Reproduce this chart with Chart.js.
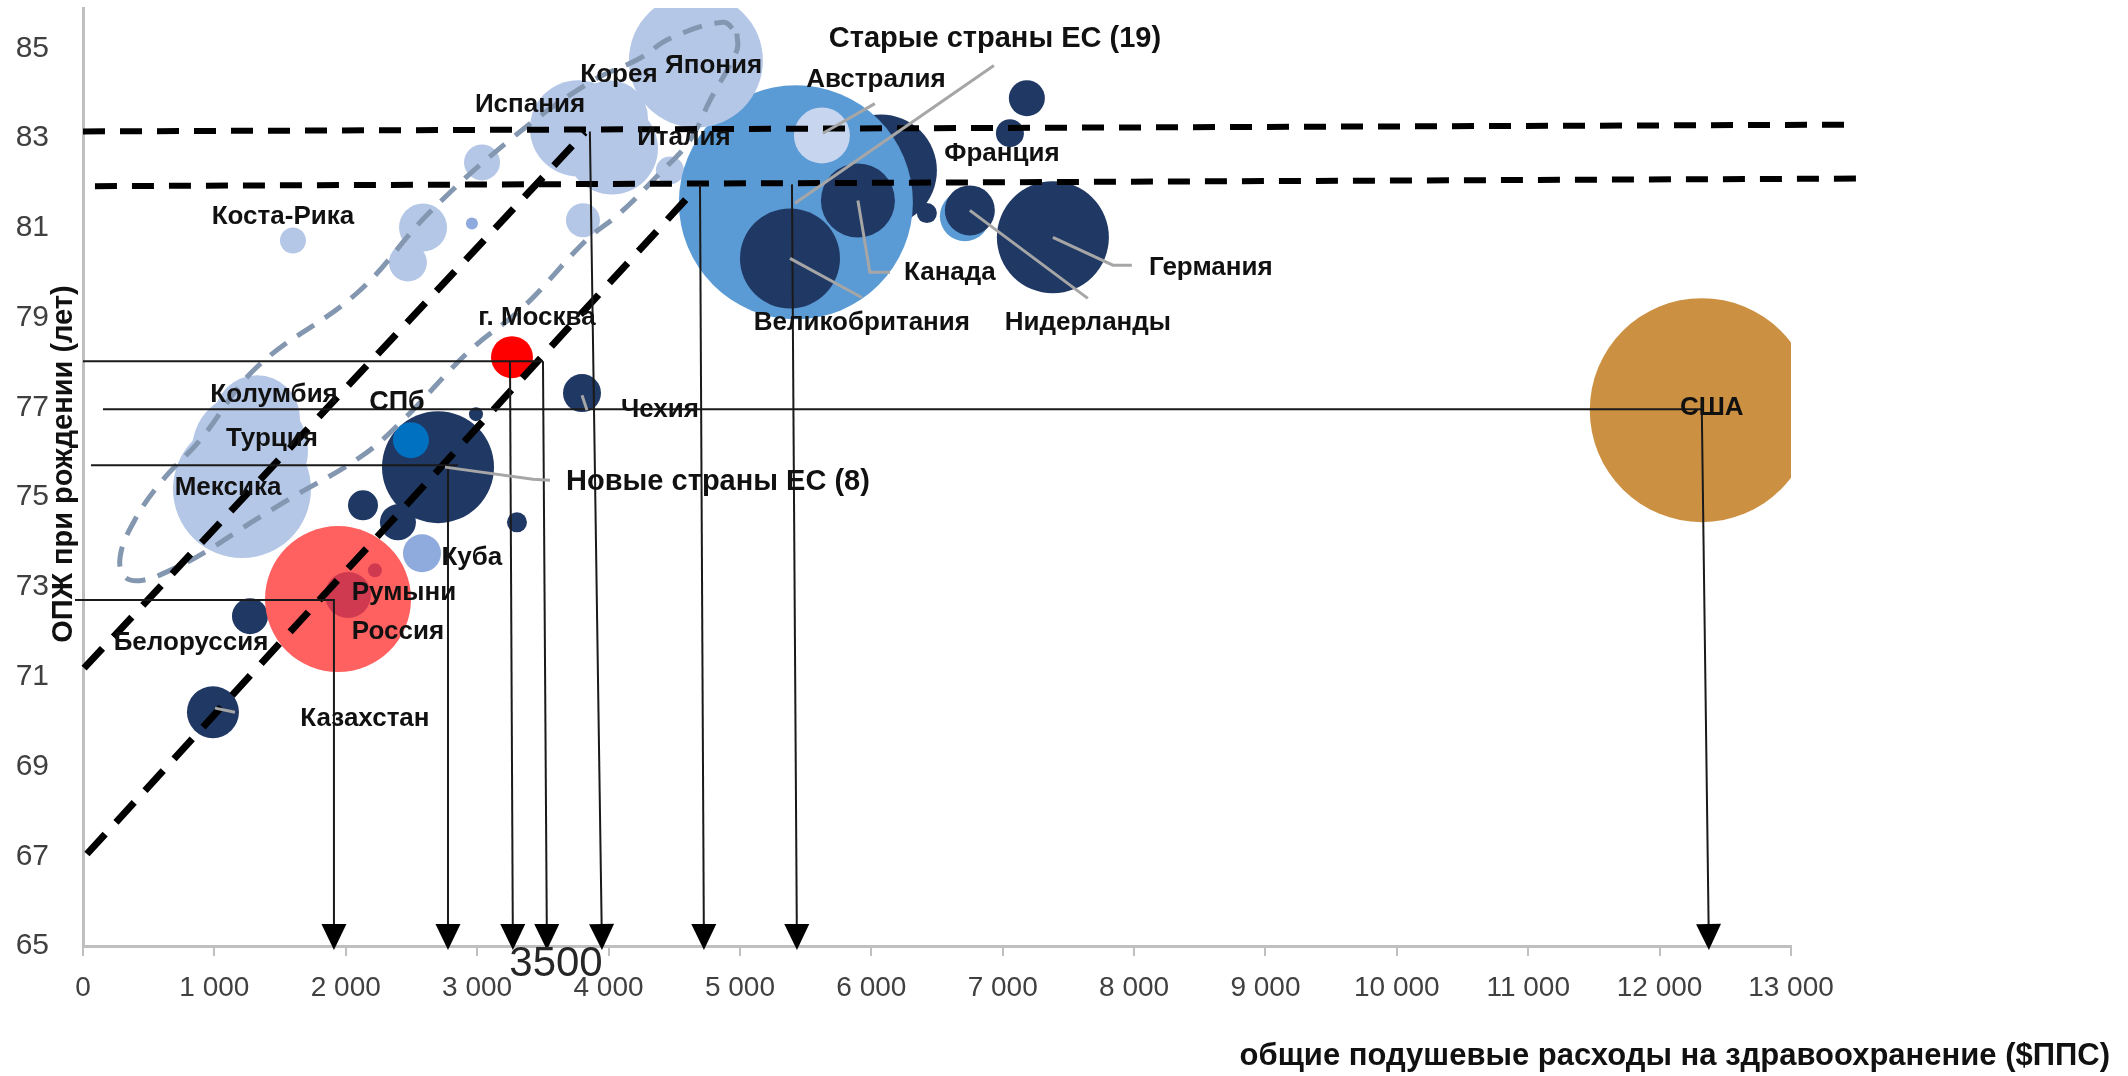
<!DOCTYPE html>
<html><head><meta charset="utf-8">
<script src="https://cdn.jsdelivr.net/npm/chart.js@4/dist/chart.umd.min.js"></script>
<style>html,body{margin:0;padding:0;background:#fff;}#wrap{width:2128px;height:1076px;}</style>
</head><body><div id="wrap"><canvas id="c" width="2128" height="1076"></canvas></div>
<script>
const yTicks = [65, 67, 69, 71, 73, 75, 77, 79, 81, 83, 85];
const xTicks = [0, 1000, 2000, 3000, 4000, 5000, 6000, 7000, 8000, 9000, 10000, 11000, 12000, 13000];

// [расходы $ППС, ОПЖ, размер пузырька]
const lightBubbles = [
  [1210, 75.18, 69], [1271, 76.05, 58], [1324, 76.76, 43], [1598, 80.72, 13],
  [2588, 81.01, 24], [2473, 80.23, 19], [3037, 82.46, 18], [3805, 81.17, 17],
  [4467, 82.28, 14], [3767, 83.22, 48], [4011, 83.44, 38], [4026, 82.77, 46]
];
const japan = [[4665, 84.73, 67]];
const france = [[6073, 82.28, 56], [6423, 81.33, 10]];
const nlUnder = [[6712, 81.26, 25]];
const oldEU = [[5426, 81.57, 117]];
const australia = [[5624, 83.06, 28]];
const darkBubbles = [
  [5898, 81.61, 37], [5381, 80.32, 50], [6750, 81.39, 25], [7382, 80.79, 56],
  [7184, 83.89, 18], [7055, 83.11, 14], [3798, 77.32, 19], [2702, 75.67, 56],
  [2991, 76.85, 7], [3303, 74.44, 10], [2397, 74.44, 18], [2131, 74.82, 15],
  [1271, 72.35, 18], [989, 70.21, 26]
];
const russia = [[1941, 72.73, 73]];
const romania = [[2017, 72.82, 23], [2222, 73.37, 7]];
const cuba = [[2580, 73.75, 19], [2960, 81.10, 6]];
const spb = [[2496, 76.27, 18]];
const moscow = [[3265, 78.12, 21]];
const usa = [[12321, 76.94, 112]];

const grayLoop = [
  [4977, 85.33], [4977, 84.96], [4772, 83.84], [4619, 82.95], [4391, 82.22], [4087, 81.33],
  [3831, 80.73], [3349, 79.23], [2945, 78.27], [2412, 76.65], [2108, 75.89], [1553, 74.93],
  [1271, 74.42], [913, 73.75], [662, 73.37], [457, 73.15], [320, 73.22], [282, 73.66],
  [381, 74.42], [586, 75.31], [890, 76.27], [1324, 77.90], [2086, 79.55], [2633, 81.33],
  [3253, 82.97], [3843, 84.22], [4239, 84.78], [4467, 85.22], [4871, 85.58], [4977, 85.33]
];
const dashUpperH = [[0, 83.15], [13420, 83.30]];
const dashLowerH = [[91, 81.93], [13516, 82.10]];
const dashUpperD = [[8, 71.19], [3820, 83.13]];
const dashLowerD = [[30, 67.05], [4590, 81.64]];

const arrowLines = [
  [[-61, 72.71], [1910, 72.71], [1910, 65]],
  [[2778, 75.71], [2778, 65]],
  [[3250, 78.03], [3272, 65]],
  [[3501, 78.03], [3531, 65]],
  [[3858, 83.15], [3950, 65]],
  [[4696, 81.97], [4726, 65]],
  [[5396, 81.97], [5434, 65]],
  [[12321, 76.96], [12375, 65]]
];
const plainLines = [
  [[61, 75.71], [2854, 75.71]],
  [[0, 78.03], [3501, 78.03]],
  [[152, 76.96], [12321, 76.96]]
];
const grayLeaders = [
  [[6933, 84.62], [5419, 81.55]],
  [[6027, 83.77], [5632, 83.11]],
  [[5898, 81.61], [5989, 80.01], [6142, 80.01]],
  [[7382, 80.79], [7839, 80.17], [7983, 80.17]],
  [[6750, 81.39], [7648, 79.43]],
  [[5381, 80.32], [5928, 79.45]],
  [[3798, 77.27], [3836, 76.94]],
  [[2755, 75.67], [3425, 75.40], [3554, 75.38]],
  [[1005, 70.30], [1157, 70.21]]
];

// [текст, x, y, вид]
const labels = [
  ['Старые страны ЕС (19)', 6941, 85.22, 'g'],
  ['Австралия', 6035, 84.29, 'c'],
  ['Япония', 4800, 84.62, 'c'],
  ['Корея', 4079, 84.40, 'c'],
  ['Испания', 3402, 83.75, 'c'],
  ['Италия', 4574, 83.00, 'c'],
  ['Франция', 6994, 82.64, 'c'],
  ['Коста-Рика', 1522, 81.24, 'c'],
  ['Канада', 6598, 80.01, 'c'],
  ['Германия', 8584, 80.12, 'c'],
  ['Великобритания', 5928, 78.88, 'c'],
  ['Нидерланды', 7648, 78.88, 'c'],
  ['г. Москва', 3455, 78.99, 'c'],
  ['Колумбия', 1454, 77.27, 'c'],
  ['СПб', 2390, 77.12, 's'],
  ['Чехия', 4391, 76.94, 'c'],
  ['Турция', 1438, 76.31, 'c'],
  ['Новые страны ЕС (8)', 4833, 75.33, 'g'],
  ['Мексика', 1104, 75.20, 'c'],
  ['Куба', 2960, 73.64, 'c'],
  ['Румыни', 2443, 72.86, 'c'],
  ['Россия', 2397, 72.00, 'c'],
  ['Белоруссия', 822, 71.75, 'c'],
  ['Казахстан', 2146, 70.06, 'c'],
  ['США', 12397, 77.00, 'c'],
  ['3500', 3600, 64.58, 'n']
];

const yTitle = 'ОПЖ при рождении (лет)';
const xTitle = 'общие подушевые расходы на здравоохранение ($ППС)';

const FAM = "'Liberation Sans', Arial, sans-serif";
const pts = a => a.map(p => ({x: p[0], y: p[1], r: p[2]}));
function bub(a, color, order) {
  return {type: 'bubble', data: pts(a), backgroundColor: color, borderWidth: 0, hoverBorderWidth: 0, clip: 0, order};
}
function lin(a, color, width, dash, order, extra) {
  return Object.assign({type: 'line', data: pts(a), borderColor: color, borderWidth: width, borderDash: dash,
    pointRadius: 0, pointHoverRadius: 0, fill: false, tension: 0, clip: false, order}, extra || {});
}

const datasets = [
  bub(lightBubbles, '#B4C7E7', 20),
  bub(france, '#203864', 19),
  bub(nlUnder, '#5B9BD5', 19),
  bub(oldEU, '#5B9BD5', 18),
  bub(japan, '#B4C7E7', 17),
  bub(australia, '#C7D5EE', 16),
  bub(darkBubbles, '#203864', 15),
  bub(russia, '#FF6161', 14),
  bub(romania, '#D03A50', 13),
  bub(cuba, '#8FAADC', 12),
  bub(spb, '#0070C0', 12),
  bub(moscow, '#FF0000', 12),
  bub(usa, '#CB9042', 12),
  lin(grayLoop, '#8497B0', 5, [20, 13], 10, {tension: 0.4}),
  lin(dashUpperH, '#000', 6, [22, 15], 9),
  lin(dashLowerH, '#000', 6, [22, 15], 9),
  lin(dashUpperD, '#000', 7, [27, 16], 9),
  lin(dashLowerD, '#000', 7, [27, 16], 9)
];
arrowLines.forEach(a => datasets.push(lin(a, '#1a1a1a', 2, [], 8, {arrow: true})));
plainLines.forEach(a => datasets.push(lin(a, '#1a1a1a', 2, [], 8)));
grayLeaders.forEach(a => datasets.push(lin(a, '#A6A6A6', 3, [], 7)));

const overlay = {
  id: 'overlay',
  afterDatasetsDraw(chart) {
    const {ctx} = chart;
    const xs = chart.scales.x, ys = chart.scales.y;
    ctx.save();
    ctx.fillStyle = '#000';
    chart.data.datasets.forEach((d, i) => {
      if (!d.arrow) return;
      const el = chart.getDatasetMeta(i).data;
      const a = el[el.length - 2], b = el[el.length - 1];
      const ang = Math.atan2(b.y - a.y, b.x - a.x);
      ctx.save();
      ctx.translate(b.x, b.y + 4);
      ctx.rotate(ang - Math.PI / 2);
      ctx.beginPath();
      ctx.moveTo(0, 0); ctx.lineTo(-12.5, -26); ctx.lineTo(12.5, -26); ctx.closePath();
      ctx.fill();
      ctx.restore();
    });
    ctx.textAlign = 'center';
    ctx.textBaseline = 'middle';
    labels.forEach(([t, vx, vy, k]) => {
      let font = 'bold 26px ' + FAM, col = '#111';
      if (k === 'g') font = 'bold 29px ' + FAM;
      if (k === 's') font = 'bold 27px ' + FAM;
      if (k === 'n') { font = '42px ' + FAM; col = '#262626'; }
      ctx.font = font; ctx.fillStyle = col;
      ctx.fillText(t, xs.getPixelForValue(vx), ys.getPixelForValue(vy));
    });
    ctx.fillStyle = '#111';
    ctx.font = 'bold 29px ' + FAM;
    ctx.save();
    ctx.translate(64, 464);
    ctx.rotate(-Math.PI / 2);
    ctx.fillText(yTitle, 0, 0);
    ctx.restore();
    ctx.font = 'bold 31px ' + FAM;
    ctx.textAlign = 'right';
    ctx.fillText(xTitle, 2110, 1056);
    ctx.restore();
  }
};

const fmt = v => v === 0 ? '0' : Math.round(v / 1000) + '\u00a0000';

new Chart(document.getElementById('c'), {
  type: 'bubble',
  data: {datasets},
  plugins: [overlay],
  options: {
    responsive: false,
    animation: false,
    devicePixelRatio: 1,
    events: [],
    layout: {autoPadding: false, padding: {top: 8, right: 337, left: 0, bottom: 0}},
    plugins: {legend: {display: false}, tooltip: {enabled: false}},
    scales: {
      x: {
        type: 'linear', position: 'bottom', min: 0, max: 13000,
        afterBuildTicks: s => { s.ticks = xTicks.map(v => ({value: v})); },
        afterFit: s => { s.height = 130; s.paddingLeft = 0; s.paddingRight = 0; },
        grid: {display: true, drawOnChartArea: false, drawTicks: true, tickLength: 10, color: '#BFBFBF', lineWidth: 2},
        border: {display: true, color: '#BFBFBF', width: 3},
        ticks: {font: {family: FAM, size: 28}, color: '#404040', padding: 15, maxRotation: 0, autoSkip: false, callback: v => fmt(v)}
      },
      y: {
        type: 'linear', position: 'left', min: 65, max: 85.9,
        afterBuildTicks: s => { s.ticks = yTicks.map(v => ({value: v})); },
        afterFit: s => { s.width = 83; s.paddingTop = 0; s.paddingBottom = 0; },
        grid: {display: false, drawTicks: false},
        border: {display: true, color: '#BFBFBF', width: 3},
        ticks: {font: {family: FAM, size: 30}, color: '#404040', padding: 34, autoSkip: false, callback: v => String(v)}
      }
    }
  }
});
</script>
</body></html>
